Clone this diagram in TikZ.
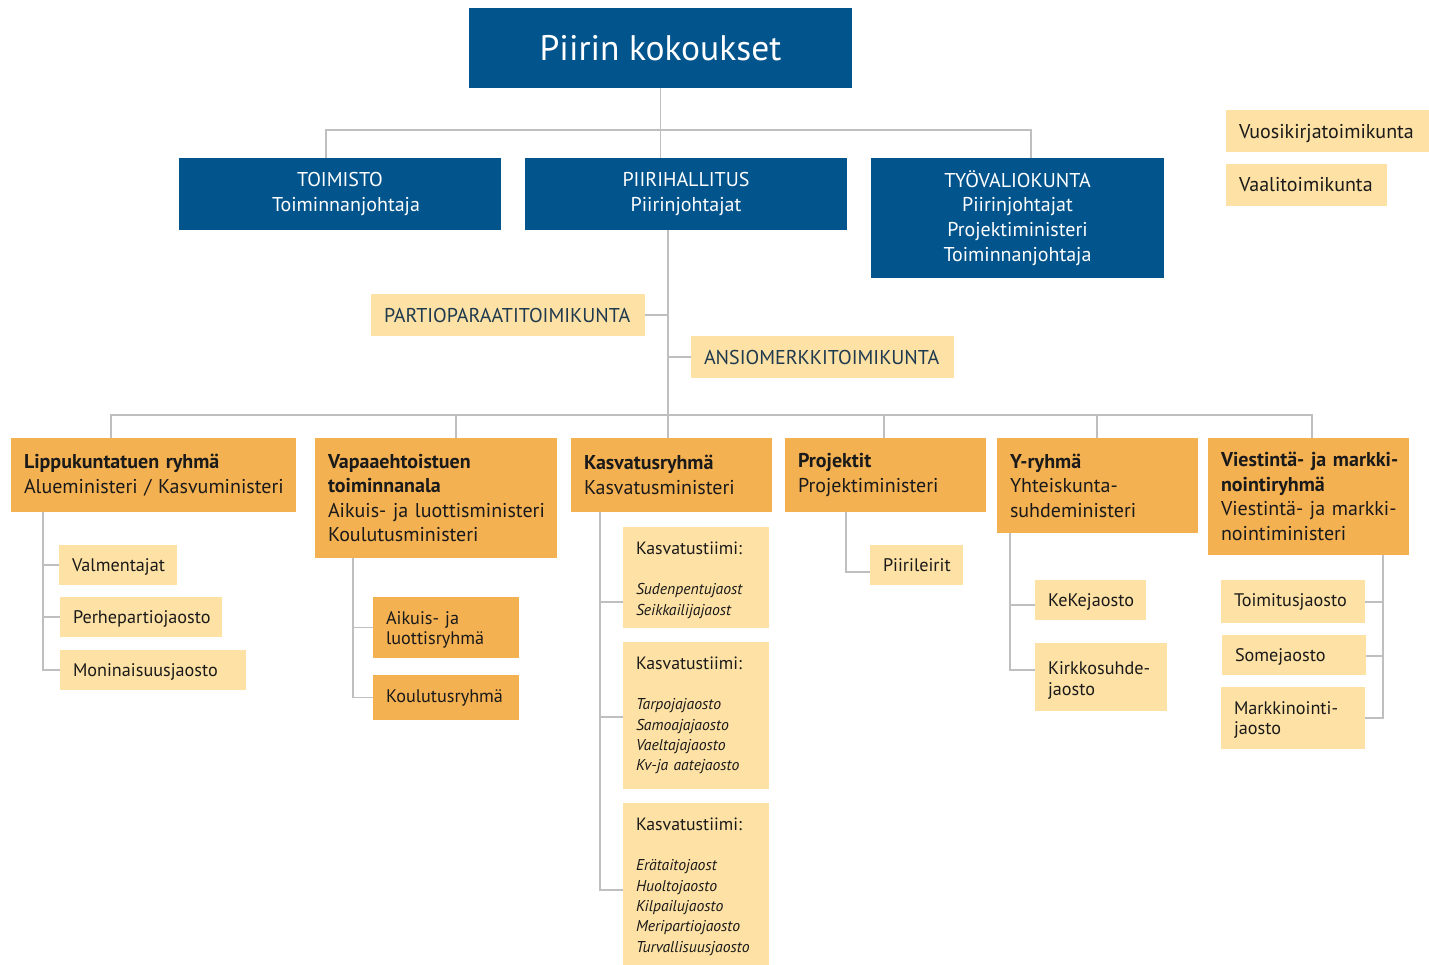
\documentclass[tikz,border=0pt]{standalone}
\usepackage{fontspec}
\setmainfont{PT Sans}
\definecolor{dblue}{HTML}{02548D}
\definecolor{orng}{HTML}{F4B152}
\definecolor{lite}{HTML}{FEE1A4}
\definecolor{lgray}{HTML}{BFBFBF}
\definecolor{txt}{HTML}{1A1A1A}
\definecolor{navytxt}{HTML}{1E3A4F}
\begin{document}
\begin{tikzpicture}[x=1pt,y=-1pt,
  base/.style={anchor=north west, inner ysep=0pt, inner xsep=13pt, outer sep=0pt},
  bluebox/.style={base, fill=dblue, text=white, align=center, font=\fontsize{20}{24.7}\selectfont},
  orbox/.style={base, fill=orng, text=txt, align=left, font=\fontsize{20}{24.5}\selectfont},
  litebox/.style={base, fill=lite, text=txt, align=left, font=\fontsize{18.2}{20.5}\selectfont},
  orsmall/.style={base, fill=orng, text=txt, align=left, font=\fontsize{18.2}{20.5}\selectfont},
  commbox/.style={base, fill=lite, text=navytxt, align=left, font=\fontsize{20}{22}\selectfont},
  teambox/.style={base, fill=lite, text=txt, align=left, text width=120pt, font=\fontsize{15.7}{20.3}\selectfont},
  conn/.style={draw=lgray, line width=1.5pt}]
\useasboundingbox[fill=white] (0,0) rectangle (1429,965);

% top level
\node[bluebox, minimum width=383, minimum height=80, font=\fontsize{35.5}{40}\selectfont] (top) at (469,8) {Piirin kokoukset};
\node[bluebox, minimum width=322, minimum height=72] (toim) at (179,158) {TOIMISTO\\\hspace*{12pt}Toiminnanjohtaja};
\node[bluebox, minimum width=322, minimum height=72] (piiri) at (525,158) {PIIRIHALLITUS\\Piirinjohtajat};
\node[bluebox, minimum width=293, minimum height=120] (tyo) at (871,158) {TYÖVALIOKUNTA\\Piirinjohtajat\\Projektiministeri\\Toiminnanjohtaja};

\node[commbox, text=txt, text width=177, minimum height=42, text depth=-3.5pt] (vuosi) at (1226,110) {\mbox{Vuosikirjatoimikunta}};
\node[commbox, text=txt, text width=135, minimum height=42] (vaali) at (1226,164) {Vaalitoimikunta};

\node[commbox, text width=248, minimum height=42, text depth=-4pt] (partio) at (371,294) {\mbox{PARTIOPARAATITOIMIKUNTA}};
\node[commbox, text width=237, minimum height=42] (ansio) at (691,336) {\mbox{ANSIOMERKKITOIMIKUNTA}};

% groups
\node[orbox, text width=259, minimum height=74] (lippu) at (11,438) {\textbf{Lippukuntatuen ryhmä}\\\mbox{Alueministeri / Kasvuministeri}};
\node[orbox, text width=216, minimum height=120] (vapaa) at (315,438) {\textbf{Vapaaehtoistuen}\\\textbf{toiminnanala}\\\mbox{Aikuis- ja luottisministeri}\\Koulutusministeri};
\node[orbox, text width=175, minimum height=74] (kasv) at (571,438) {\textbf{Kasvatusryhmä}\\Kasvatusministeri};
\node[orbox, text width=175, minimum height=74] (proj) at (785,438) {\textbf{Projektit}\\Projektiministeri};
\node[orbox, text width=175, minimum height=95] (yr) at (997,438) {\textbf{Y-ryhmä}\\Yhteiskunta-\\suhdeministeri};
\node[orbox, text width=175, minimum height=117] (viest) at (1208,438) {\mbox{\textbf{Viestintä- ja markki-}}\\\textbf{nointiryhmä}\\\mbox{Viestintä- ja markki-}\\nointiministeri};

% Lippukunta subs
\node[litebox, text width=92, minimum height=40, text depth=-2pt] (valm) at (59,545) {\mbox{Valmentajat}};
\node[litebox, text width=136, minimum height=40, text depth=-2pt] (perhe) at (60,597) {\mbox{Perhepartiojaosto}};
\node[litebox, text width=160, minimum height=40, text depth=0pt] (moni) at (60,650) {\mbox{Moninaisuusjaosto}};

% Vapaa subs
\node[orsmall, text width=120, minimum height=61, text depth=19pt] (aik) at (373,597) {Aikuis- ja\\luottisryhmä};
\node[orsmall, text width=120, minimum height=45] (kou) at (373,675) {\mbox{Koulutusryhmä}};

% Kasvatus teams
\node[teambox, minimum height=101, text depth=58.5pt] (k1) at (623,527) {{\fontsize{17.8}{20.3}\selectfont Kasvatustiimi:}\\[20pt]\itshape Sudenpentujaost\\\itshape Seikkailijajaost};
\node[teambox, minimum height=147] (k2) at (623,642) {{\fontsize{17.8}{20.3}\selectfont Kasvatustiimi:}\\[20pt]\itshape Tarpojajaosto\\\itshape Samoajajaosto\\\itshape Vaeltajajaosto\\\itshape Kv-ja aatejaosto};
\node[teambox, minimum height=162, text depth=119.5pt] (k3) at (623,803) {{\fontsize{17.8}{20.3}\selectfont Kasvatustiimi:}\\[20pt]\itshape Erätaitojaost\\\itshape Huoltojaosto\\\itshape Kilpailujaosto\\\itshape Meripartiojaosto\\\itshape \mbox{Turvallisuusjaosto}};

% Projektit
\node[litebox, text width=67, minimum height=40, text depth=-4pt] (leiri) at (870,545) {\mbox{Piirileirit}};

% Y-ryhmä
\node[litebox, text width=85, minimum height=40, text depth=-2pt] (keke) at (1035,580) {\mbox{KeKejaosto}};
\node[litebox, text width=106, minimum height=68, text depth=17.5pt] (kirk) at (1035,643) {\mbox{Kirkkosuhde-}\\jaosto};

% Viestintä
\node[litebox, text width=118, minimum height=43] (toimj) at (1221,580) {\mbox{Toimitusjaosto}};
\node[litebox, text width=118, minimum height=40, text depth=0pt] (some) at (1222,635) {Somejaosto};
\node[litebox, text width=118, minimum height=62, text depth=20.5pt] (mark) at (1221,687) {\mbox{Markkinointi-}\\jaosto};

% connectors top
\coordinate (hA) at (326,130);
\coordinate (hB) at (1031,130);
\coordinate (hM) at (660.5,130);
\draw[conn] (top.south) -- (hM |- piiri.north);
\draw[conn] (hA |- toim.north) -- (hA) -- (hB) -- (hB |- tyo.north);

% piirihallitus trunk
\coordinate (v1) at (668,415);
\draw[conn] (v1 |- piiri.south) -- (v1);
\draw[conn] (partio.east) -- (partio.east -| v1);
\draw[conn] (ansio.west) -- (ansio.west -| v1);

% group bar
\coordinate (gL) at (111,415);
\coordinate (gV) at (456,415);
\coordinate (gP) at (884,415);
\coordinate (gY) at (1097,415);
\coordinate (gR) at (1312,415);
\draw[conn] (gL |- lippu.north) -- (gL) -- (gR) -- (gR |- viest.north);
\draw[conn] (gV) -- (gV |- vapaa.north);
\draw[conn] (v1) -- (v1 |- kasv.north);
\draw[conn] (gP) -- (gP |- proj.north);
\draw[conn] (gY) -- (gY |- yr.north);

% Lippukunta branch
\coordinate (lx) at (43,0);
\draw[conn] (lx |- lippu.south) |- (moni.west);
\draw[conn] (lx |- valm.west) -- (valm.west);
\draw[conn] (lx |- perhe.west) -- (perhe.west);

% Vapaa branch
\coordinate (vx) at (353,0);
\draw[conn] (vx |- vapaa.south) |- (kou.west);
\draw[conn] (vx |- aik.west) -- (aik.west);

% Kasvatus branch
\coordinate (kc1) at (600,602);
\coordinate (kc2) at (600,717);
\coordinate (kc3) at (600,890);
\draw[conn] (kc1 |- kasv.south) -- (kc3) -- (kc3 -| k3.west);
\draw[conn] (kc1) -- (kc1 -| k1.west);
\draw[conn] (kc2) -- (kc2 -| k2.west);

% Projektit branch
\coordinate (pc) at (846,572);
\draw[conn] (pc |- proj.south) -- (pc) -- (pc -| leiri.west);

% Y-ryhmä branch
\coordinate (yc1) at (1010,605);
\coordinate (yc2) at (1010,670);
\draw[conn] (yc1 |- yr.south) -- (yc2) -- (yc2 -| kirk.west);
\draw[conn] (yc1) -- (yc1 -| keke.west);

% Viestintä branch
\coordinate (wc1) at (1383,602);
\coordinate (wc2) at (1383,656);
\coordinate (wc3) at (1383,718);
\draw[conn] (wc1 |- viest.south) -- (wc3) -- (wc3 -| mark.east);
\draw[conn] (wc1) -- (wc1 -| toimj.east);
\draw[conn] (wc2) -- (wc2 -| some.east);
\end{tikzpicture}
\end{document}
